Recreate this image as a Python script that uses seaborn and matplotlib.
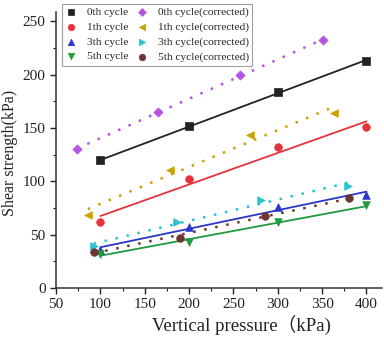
import numpy as np
import pandas as pd
import matplotlib
matplotlib.use("Agg")
import matplotlib.pyplot as plt
import seaborn as sns
from matplotlib.ticker import MultipleLocator

# ---- data ----
x_raw = [100, 200, 300, 400]
y0 = [119.6, 151.6, 183.6, 213.3]
y1 = [62.3, 102.2, 132.2, 151.0]
y3 = [35.7, 57.6, 76.4, 87.4]
y5 = [32.0, 43.0, 61.7, 77.4]

x0c = [73.6, 165.3, 257.9, 350.7]
y0c = [130.4, 164.8, 200.0, 232.4]
x1c = [85.8, 178.6, 268.3, 363.8]
y1c = [68.6, 110.9, 143.8, 164.2]
x3c = [92.3, 186.7, 281.5, 378.8]
y3c = [39.5, 61.7, 82.7, 95.9]
x5c = [93.0, 189.7, 285.2, 380.7]
y5c = [34.1, 47.3, 67.7, 84.3]

labels_raw = ["0th cycle", "1th cycle", "3th cycle", "5th cycle"]
labels_cor = ["0th cycle(corrected)", "1th cycle(corrected)",
              "3th cycle(corrected)", "5th cycle(corrected)"]

sns.set_style("ticks")
plt.rcParams['font.family'] = ['Liberation Serif', 'Noto Sans CJK SC']

fig = plt.figure(figsize=(3.84, 3.40), dpi=100)
ax = fig.add_axes([0.146, 0.153, 0.85, 0.812])

raw = [(x_raw, y0, labels_raw[0], "#222222", "s"),
       (x_raw, y1, labels_raw[1], "#e8313a", "o"),
       (x_raw, y3, labels_raw[2], "#2a36c8", "^"),
       (x_raw, y5, labels_raw[3], "#1f9a3c", "v")]
cor = [(x0c, y0c, labels_cor[0], "#b455e0", "D"),
       (x1c, y1c, labels_cor[1], "#c9a200", "<"),
       (x3c, y3c, labels_cor[2], "#27c3cf", ">"),
       (x5c, y5c, labels_cor[3], "#6e3434", "o")]

for xs, ys, lab, col, mk in raw:
    df = pd.DataFrame({"x": xs, "y": ys})
    sns.regplot(data=df, x="x", y="y", ax=ax, ci=None, scatter=False,
                color=col, line_kws=dict(lw=1.3, ls="-"))
for xs, ys, lab, col, mk in cor:
    df = pd.DataFrame({"x": xs, "y": ys})
    sns.regplot(data=df, x="x", y="y", ax=ax, ci=None, scatter=False,
                color=col, line_kws=dict(lw=1.8, ls=(0, (1, 3.5))))
for xs, ys, lab, col, mk in raw + cor:
    df = pd.DataFrame({"x": xs, "y": ys})
    sz = 22 if mk == "D" else 30
    sns.scatterplot(data=df, x="x", y="y", ax=ax, color=col, marker=mk,
                    s=sz, edgecolor=col, linewidth=0.5, label=lab, zorder=5)

ax.set_xlim(50, 418)
ax.set_ylim(0, 259)
ax.set_xticks([50, 100, 150, 200, 250, 300, 350, 400])
ax.set_yticks([0, 50, 100, 150, 200, 250])
ax.xaxis.set_minor_locator(MultipleLocator(25))
ax.yaxis.set_minor_locator(MultipleLocator(25))
ax.tick_params(which="major", direction="out", length=4, width=1, labelsize=11, colors="#222222")
ax.tick_params(which="minor", direction="out", length=2.5, width=0.8, colors="#222222")
for s in ["top", "right"]:
    ax.spines[s].set_visible(False)
for s in ["left", "bottom"]:
    ax.spines[s].set_linewidth(1.1)
    ax.spines[s].set_color("#333333")

ax.set_xlabel("Vertical pressure（kPa)", fontsize=13.5, color="#222222")
ax.xaxis.set_label_coords(0.567, -0.098)
ax.set_ylabel("Shear strength(kPa)", fontsize=11.5, color="#222222")
ax.yaxis.set_label_coords(-0.117, 0.49)

h, l = ax.get_legend_handles_labels()
leg = ax.legend(h, l, ncol=2, loc="upper left", bbox_to_anchor=(0.0, 1.05),
                fontsize=8.2, frameon=True, fancybox=False, edgecolor="#888888",
                handlelength=1.0, handletextpad=0.9, columnspacing=0.7,
                labelspacing=0.42, borderpad=0.3, markerscale=0.85)
leg.get_frame().set_linewidth(0.8)

fig.savefig("out.png", dpi=100)
